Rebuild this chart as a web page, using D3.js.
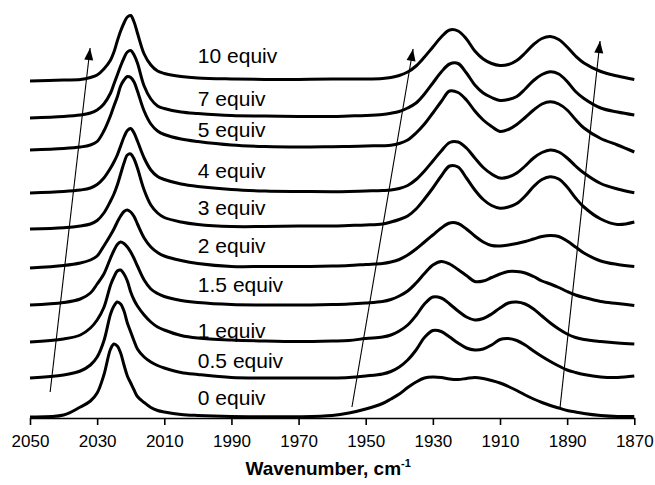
<!DOCTYPE html>
<html>
<head>
<meta charset="utf-8">
<script src="https://cdn.jsdelivr.net/npm/d3@7"></script>
<style>
  html, body { margin: 0; padding: 0; background: #fff; }
  svg { display: block; }
</style>
</head>
<body>
<svg id="chart" width="655" height="485"></svg>
<script>
// Wavenumber grid (cm-1) shared by every spectrum
const wavenumbers = [2050, 2040, 2035, 2032, 2030, 2028, 2026, 2025, 2024, 2023, 2022, 2021, 2020, 2019, 2018, 2016, 2014, 2012, 2010, 2005, 2000, 1990, 1980, 1970, 1960, 1955,
  1950, 1945, 1942.5, 1940, 1937.5, 1935, 1932.5, 1930, 1927.5, 1925, 1922.5, 1920, 1917.5, 1915, 1912.5, 1910, 1907.5, 1905, 1902.5, 1900, 1897.5, 1895, 1892.5, 1890, 1887.5, 1885, 1880, 1875, 1870];

// Absorbance of each titration point (relative to its own baseline)
const abs10 = [0, 0.01, 0.015, 0.035, 0.06, 0.12, 0.21, 0.29, 0.40, 0.50, 0.58, 0.64, 0.655, 0.59, 0.48, 0.27, 0.16, 0.10, 0.075, 0.045, 0.03, 0.02, 0.015, 0.015, 0.02, 0.02,
  0.02, 0.025, 0.035, 0.055, 0.09, 0.15, 0.24, 0.34, 0.44, 0.51, 0.50, 0.42, 0.30, 0.22, 0.175, 0.155, 0.165, 0.205, 0.28, 0.365, 0.425, 0.445, 0.415, 0.34, 0.25, 0.18, 0.095, 0.05, 0.015];
const abs7 = [0, 0.015, 0.03, 0.05, 0.08, 0.14, 0.25, 0.34, 0.43, 0.52, 0.60, 0.66, 0.675, 0.63, 0.55, 0.32, 0.19, 0.12, 0.095, 0.06, 0.045, 0.025, 0.02, 0.015, 0.015, 0.02,
  0.025, 0.035, 0.047, 0.065, 0.10, 0.15, 0.24, 0.35, 0.46, 0.54, 0.545, 0.45, 0.33, 0.25, 0.205, 0.175, 0.185, 0.215, 0.29, 0.375, 0.435, 0.463, 0.44, 0.365, 0.265, 0.195, 0.10, 0.06, 0.03];
const abs5 = [0, 0.015, 0.03, 0.05, 0.085, 0.19, 0.345, 0.44, 0.53, 0.64, 0.70, 0.735, 0.725, 0.68, 0.59, 0.39, 0.26, 0.19, 0.155, 0.11, 0.085, 0.05, 0.035, 0.03, 0.033, 0.035,
  0.04, 0.043, 0.047, 0.065, 0.10, 0.17, 0.26, 0.37, 0.485, 0.59, 0.575, 0.50, 0.39, 0.30, 0.235, 0.185, 0.205, 0.255, 0.325, 0.40, 0.46, 0.483, 0.46, 0.40, 0.305, 0.22, 0.115, 0.05, -0.02];
const abs4 = [0, 0.015, 0.03, 0.05, 0.085, 0.15, 0.25, 0.31, 0.38, 0.47, 0.56, 0.625, 0.645, 0.60, 0.52, 0.35, 0.23, 0.165, 0.135, 0.09, 0.065, 0.035, 0.02, 0.015, 0.013, 0.015,
  0.02, 0.025, 0.03, 0.045, 0.075, 0.135, 0.22, 0.32, 0.42, 0.505, 0.51, 0.45, 0.35, 0.255, 0.19, 0.15, 0.16, 0.20, 0.27, 0.35, 0.405, 0.43, 0.41, 0.35, 0.27, 0.20, 0.095, 0.04, 0.003];
const abs3 = [0, 0.013, 0.03, 0.05, 0.085, 0.16, 0.28, 0.35, 0.44, 0.55, 0.66, 0.74, 0.75, 0.70, 0.61, 0.39, 0.24, 0.16, 0.115, 0.07, 0.045, 0.025, 0.025, 0.03, 0.03, 0.035,
  0.04, 0.05, 0.07, 0.095, 0.13, 0.20, 0.30, 0.41, 0.53, 0.63, 0.62, 0.51, 0.39, 0.295, 0.235, 0.207, 0.22, 0.255, 0.33, 0.425, 0.495, 0.523, 0.50, 0.42, 0.31, 0.22, 0.10, 0.045, 0.07];
const abs2 = [0, 0.025, 0.05, 0.08, 0.12, 0.22, 0.33, 0.39, 0.46, 0.52, 0.565, 0.58, 0.56, 0.515, 0.44, 0.30, 0.21, 0.155, 0.12, 0.075, 0.045, 0.015, 0.015, 0.015, 0.02, 0.025,
  0.035, 0.045, 0.06, 0.085, 0.13, 0.19, 0.26, 0.33, 0.40, 0.45, 0.445, 0.39, 0.32, 0.26, 0.225, 0.22, 0.23, 0.245, 0.265, 0.29, 0.315, 0.325, 0.315, 0.27, 0.21, 0.15, 0.07, 0.035, 0.015];
const abs1p5 = [0, 0.025, 0.06, 0.12, 0.21, 0.31, 0.47, 0.545, 0.605, 0.63, 0.615, 0.58, 0.53, 0.465, 0.39, 0.25, 0.16, 0.115, 0.085, 0.045, 0.025, 0.005, 0, 0, 0.005, 0.01,
  0.02, 0.035, 0.055, 0.09, 0.14, 0.22, 0.315, 0.40, 0.435, 0.41, 0.355, 0.295, 0.235, 0.24, 0.275, 0.31, 0.335, 0.335, 0.32, 0.285, 0.24, 0.21, 0.175, 0.135, 0.10, 0.075, 0.035, 0.015, -0.005];
const abs1 = [0, 0.03, 0.07, 0.14, 0.22, 0.345, 0.57, 0.65, 0.71, 0.72, 0.68, 0.61, 0.50, 0.42, 0.36, 0.27, 0.20, 0.15, 0.12, 0.065, 0.04, 0.02, 0.01, 0.005, 0.01, 0.015,
  0.035, 0.05, 0.07, 0.11, 0.17, 0.265, 0.38, 0.45, 0.44, 0.38, 0.31, 0.25, 0.22, 0.235, 0.28, 0.34, 0.39, 0.40, 0.38, 0.33, 0.26, 0.19, 0.13, 0.08, 0.045, 0.025, 0.005, -0.01, -0.02];
const abs0p5 = [0, 0.03, 0.07, 0.13, 0.21, 0.37, 0.64, 0.72, 0.76, 0.74, 0.67, 0.55, 0.46, 0.37, 0.29, 0.21, 0.16, 0.125, 0.10, 0.055, 0.035, 0.005, 0, 0, 0, 0.005,
  0.02, 0.04, 0.065, 0.11, 0.18, 0.28, 0.405, 0.475, 0.465, 0.41, 0.35, 0.30, 0.28, 0.29, 0.33, 0.385, 0.395, 0.375, 0.33, 0.27, 0.215, 0.165, 0.12, 0.08, 0.055, 0.035, 0.01, 0.005, 0.02];
const abs0 = [0, 0.02, 0.10, 0.16, 0.24, 0.42, 0.68, 0.73, 0.71, 0.64, 0.52, 0.41, 0.34, 0.27, 0.205, 0.145, 0.095, 0.065, 0.05, 0.025, 0.015, 0.005, 0.003, 0.003, 0.015, 0.04,
  0.08, 0.135, 0.18, 0.23, 0.295, 0.35, 0.39, 0.40, 0.395, 0.38, 0.375, 0.385, 0.395, 0.385, 0.365, 0.34, 0.305, 0.265, 0.22, 0.18, 0.145, 0.115, 0.09, 0.065, 0.05, 0.035, 0.015, 0.005, 0.005];

// Equivalents added, vertical stacking offsets and label heights
const seriesNames = ["10 equiv", "7 equiv", "5 equiv", "4 equiv", "3 equiv", "2 equiv", "1.5 equiv", "1 equiv", "0.5 equiv", "0 equiv"];
const seriesValues = [abs10, abs7, abs5, abs4, abs3, abs2, abs1p5, abs1, abs0p5, abs0];
const offsets = [3.37, 3.00, 2.68, 2.25, 1.89, 1.50, 1.13, 0.76, 0.40, 0.01];
const labelLevels = [3.55, 3.12, 2.81, 2.40, 2.03, 1.65, 1.26, 0.80, 0.50, 0.13];
const labelWavenumber = 2000;

// Trend arrows: [wn start, level start, wn end, level end]
const arrows = [
  [2044.0, 0.26, 2032.1, 3.70],
  [1954.1, 0.11, 1935.9, 3.69],
  [1892.1, 0.11, 1880.2, 3.77]
];

const tickValues = [2050, 2030, 2010, 1990, 1970, 1950, 1930, 1910, 1890, 1870];

const svg = d3.select("#chart");
const plotLeft = 30, plotRight = 634.3, plotBottom = 418, plotTop = 0;

const x = d3.scaleLinear().domain([2050, 1870]).range([plotLeft, plotRight]);
const y = d3.scaleLinear().domain([0, 4.18]).range([plotBottom, plotTop]);

const FONT = "'Liberation Sans', Arial, Helvetica, sans-serif";

// Arrowhead marker
svg.append("defs").append("marker")
  .attr("id", "head")
  .attr("viewBox", "-13 -5 14 10")
  .attr("refX", 0).attr("refY", 0)
  .attr("markerWidth", 14).attr("markerHeight", 10)
  .attr("markerUnits", "userSpaceOnUse")
  .attr("orient", "auto")
  .append("path")
  .attr("d", "M0,0L-12,-4.5L-12,4.5Z")
  .attr("fill", "#000");

// Spectra
const line = d3.line()
  .x(d => x(d[0]))
  .y(d => y(d[1]))
  .curve(d3.curveCatmullRom.alpha(0.5));

svg.append("g").selectAll("path")
  .data(seriesValues.map((vals, i) => wavenumbers.map((w, j) => [w, vals[j] + offsets[i]])))
  .join("path")
  .attr("d", line)
  .attr("fill", "none")
  .attr("stroke", "#000")
  .attr("stroke-width", 3)
  .attr("stroke-linejoin", "round")
  .attr("stroke-linecap", "butt");

// Series labels
svg.append("g").selectAll("text")
  .data(seriesNames)
  .join("text")
  .attr("x", x(labelWavenumber))
  .attr("y", (d, i) => y(labelLevels[i]))
  .attr("font-family", FONT)
  .attr("font-size", 21)
  .attr("fill", "#000")
  .text(d => d);

// Arrows
svg.append("g").selectAll("line")
  .data(arrows)
  .join("line")
  .attr("x1", d => x(d[0])).attr("y1", d => y(d[1]))
  .attr("x2", d => x(d[2])).attr("y2", d => y(d[3]))
  .attr("stroke", "#000")
  .attr("stroke-width", 1.1)
  .attr("marker-end", "url(#head)");

// X axis
const axis = svg.append("g")
  .attr("transform", `translate(0,${plotBottom})`)
  .call(d3.axisBottom(x).tickValues(tickValues).tickFormat(d3.format("d")).tickSize(7).tickSizeOuter(0));
axis.select(".domain").attr("stroke", "#000").attr("stroke-width", 1.6);
axis.selectAll(".tick line").attr("stroke", "#000").attr("stroke-width", 1.6);
axis.selectAll(".tick text")
  .attr("y", 17)
  .attr("fill", "#000")
  .attr("font-family", FONT)
  .attr("font-size", 17);

// Axis title
const title = svg.append("text")
  .attr("x", (plotLeft + plotRight) / 2 - 4)
  .attr("y", 475)
  .attr("text-anchor", "middle")
  .attr("font-family", FONT)
  .attr("font-size", 19)
  .attr("font-weight", "bold")
  .attr("fill", "#000");
title.append("tspan").text("Wavenumber, cm");
title.append("tspan").attr("dy", -8).attr("font-size", 11).text("-1");
</script>
</body>
</html>
